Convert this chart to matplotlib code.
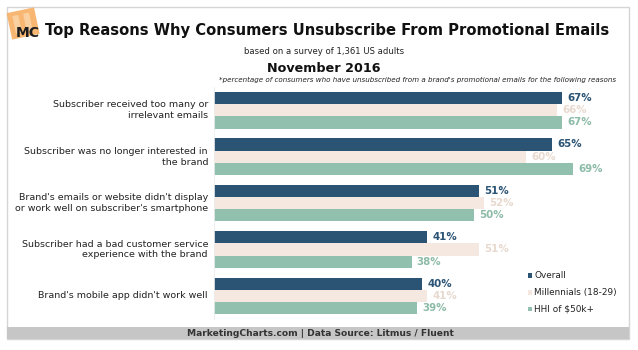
import matplotlib
matplotlib.use("Agg")
import matplotlib.pyplot as plt
from matplotlib.patches import Rectangle
import matplotlib.transforms as mtransforms
import numpy as np

categories = [
    "Subscriber received too many or\nirrelevant emails",
    "Subscriber was no longer interested in\nthe brand",
    "Brand's emails or website didn't display\nor work well on subscriber's smartphone",
    "Subscriber had a bad customer service\nexperience with the brand",
    "Brand's mobile app didn't work well",
]
series_names = ["Overall", "Millennials (18-29)", "HHI of $50k+"]
overall = [67, 65, 51, 41, 40]
millennials = [66, 60, 52, 51, 41]
hhi = [67, 69, 50, 38, 39]

bar_colors = ["#2B5373", "#F4E8E0", "#92C0AE"]
label_colors = ["#2B5373", "#E8D9CF", "#8DBBA8"]

W, H = 638, 350
fig = plt.figure(figsize=(W / 100, H / 100), dpi=100)
fig.patch.set_facecolor("white")

# overlay axes in pixel coordinates for decoration
ov = fig.add_axes([0, 0, 1, 1])
ov.set_xlim(0, W)
ov.set_ylim(H, 0)
ov.axis("off")
ov.add_patch(Rectangle((6.5, 7), 622.5, 332, fill=False, ec="#D5D5D5", lw=1))
ov.add_patch(Rectangle((7, 326.5), 622, 12.5, fc="#C6C6C6", ec="none"))
ov.text(320, 333, "MarketingCharts.com | Data Source: Litmus / Fluent",
        ha="center", va="center", fontsize=6.6, fontweight="bold", color="#333333")

# logo
logo_tr = mtransforms.Affine2D().rotate_deg_around(23, 23, -12) + ov.transData
ov.add_patch(Rectangle((9, 10), 28, 27, fc="#F7B36A", ec="none", transform=logo_tr, alpha=0.95))
ov.add_patch(Rectangle((14, 14), 6, 18, fc="#FAD0A0", ec="none", transform=logo_tr))
ov.add_patch(Rectangle((25, 14), 6, 18, fc="#FAD0A0", ec="none", transform=logo_tr))
ov.text(28, 33, "MC", ha="center", va="center", fontsize=10, fontweight="bold", color="#1E1E1E")

renderer = fig.canvas.get_renderer()


def fit_text(x, yv, s, target_w, **kw):
    t = ov.text(x, yv, s, fontsize=10, **kw)
    w = t.get_window_extent(renderer).width
    t.set_fontsize(10 * target_w / w)
    return t


fit_text(327.5, 30, "Top Reasons Why Consumers Unsubscribe From Promotional Emails", 563,
         ha="center", va="center", fontweight="bold", color="#111111")
fit_text(324, 52, "based on a survey of 1,361 US adults", 160,
         ha="center", va="center", color="#222222")
fit_text(324, 68, "November 2016", 114,
         ha="center", va="center", fontweight="bold", color="#111111")
fit_text(616, 80, "*percentage of consumers who have unsubscribed from a brand's promotional emails for the following reasons",
         398, ha="right", va="center", style="italic", color="#222222")

# bar axes
left_px, right_px, top_px, bot_px = 214, 630, 87, 320
ax = fig.add_axes([left_px / W, 1 - bot_px / H, (right_px - left_px) / W, (bot_px - top_px) / H])
pitch = 46.4
c0 = 110.3
ax.set_ylim((bot_px - c0) / pitch, -(c0 - top_px) / pitch)
ax.set_xlim(0, (right_px - left_px) / 5.2)
ax.axis("off")

y = np.arange(len(categories))
bh = 12.2 / pitch
data = [overall, millennials, hhi]
for i, (vals, col, lc) in enumerate(zip(data, bar_colors, label_colors)):
    yy = y + (i - 1) * bh
    ax.barh(yy, vals, height=bh, color=col, edgecolor="none", label=series_names[i])
    for yv, v in zip(yy, vals):
        ax.text(v + 1.0, yv, f"{v}%", ha="left", va="center", fontsize=7.4,
                fontweight="bold", color=lc)

ax.plot([0, 0], [4.52, -0.5], color="#EDEDED", lw=0.6)

for yi, cat in zip(y, categories):
    ov.text(208, c0 + yi * pitch, cat, ha="right", va="center", fontsize=6.8,
            color="#222222", linespacing=1.25)

# legend
leg_y = [275.7, 292.3, 309]
for name, col, ly in zip(series_names, bar_colors, leg_y):
    ov.add_patch(Rectangle((527.5, ly - 2.3), 4.6, 4.6, fc=col, ec="none"))
    ov.text(534.5, ly, name, ha="left", va="center", fontsize=6.4, color="#222222")

fig.savefig("out.png", dpi=100, facecolor="white")
